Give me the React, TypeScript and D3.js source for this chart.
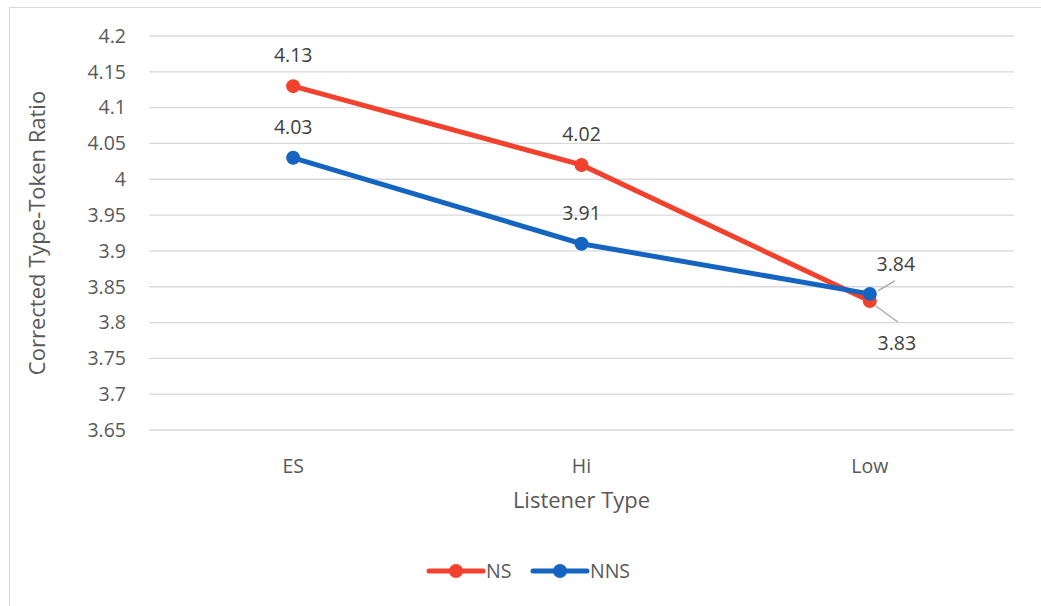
import { line as d3Line, scaleBand, scaleLinear } from "d3";

const categories = ["ES", "Hi", "Low"];
const nsValues = [4.13, 4.02, 3.83];
const nnsValues = [4.03, 3.91, 3.84];
const yTicks = [3.65, 3.7, 3.75, 3.8, 3.85, 3.9, 3.95, 4, 4.05, 4.1, 4.15, 4.2];

const width = 1041;
const height = 606;
const plot = { left: 149, right: 1014, top: 36, bottom: 430 };
const font = "'Open Sans', 'Noto Sans', sans-serif";
const textColor = "#595959";

const series = [
  { name: "NS", values: nsValues, color: "#f2412d" },
  { name: "NNS", values: nnsValues, color: "#1565c0" },
];

export default function App() {
  const x = scaleBand<string>().domain(categories).range([plot.left, plot.right]);
  const y = scaleLinear().domain([3.65, 4.2]).range([plot.bottom, plot.top]);
  const cx = (c: string) => (x(c) ?? 0) + x.bandwidth() / 2;

  const lineGen = d3Line<number>()
    .x((_, i) => cx(categories[i]))
    .y((d) => y(d));

  // Excel puts labels above; the two Low points are pulled apart with leader lines
  const labelPos = (s: number, i: number) => {
    const px = cx(categories[i]);
    const py = y(series[s].values[i]);
    if (i === 2) {
      return s === 1
        ? { x: px + 26, y: py - 30, leader: { x1: px + 8, y1: py - 3, x2: px + 25, y2: py - 13 } }
        : { x: px + 27, y: py + 42, leader: { x1: px + 6, y1: py + 5, x2: px + 28, y2: py + 21 } };
    }
    return { x: px, y: py - 31, leader: null };
  };

  return (
    <svg
      width={width}
      height={height}
      style={{ position: "absolute", left: 0, top: 0, background: "#fff" }}
      fontFamily={font}
    >
      <rect x={9.5} y={7.5} width={1040} height={610} fill="#fff" stroke="#d9d9d9" />

      {yTicks.map((t) => (
        <g key={t}>
          <line x1={plot.left} x2={plot.right} y1={y(t)} y2={y(t)} stroke="#d9d9d9" strokeWidth={1.3} />
          <text x={126} y={y(t)} dy="0.35em" textAnchor="end" fontSize={19.5} fill={textColor}>
            {t}
          </text>
        </g>
      ))}

      {categories.map((c) => (
        <text key={c} x={cx(c)} y={466} dy="0.35em" textAnchor="middle" fontSize={19.5} fill={textColor}>
          {c}
        </text>
      ))}

      <text
        transform={`translate(37, ${(plot.top + plot.bottom) / 2}) rotate(-90)`}
        textAnchor="middle"
        dy="0.35em"
        fontSize={22}
        fill={textColor}
      >
        Corrected Type-Token Ratio
      </text>
      <text x={cx("Hi")} y={500} dy="0.35em" textAnchor="middle" fontSize={22} fill={textColor}>
        Listener Type
      </text>

      {series.map((s) => (
        <g key={s.name}>
          <path d={lineGen(s.values) ?? ""} fill="none" stroke={s.color} strokeWidth={5} strokeLinecap="round" />
          {s.values.map((v, i) => (
            <circle key={i} cx={cx(categories[i])} cy={y(v)} r={7} fill={s.color} />
          ))}
        </g>
      ))}

      {series.map((s, si) =>
        s.values.map((v, i) => {
          const p = labelPos(si, i);
          return (
            <g key={`${s.name}-${i}`}>
              {p.leader && (
                <line
                  x1={p.leader.x1}
                  y1={p.leader.y1}
                  x2={p.leader.x2}
                  y2={p.leader.y2}
                  stroke="#a6a6a6"
                  strokeWidth={1.3}
                />
              )}
              <text x={p.x} y={p.y} dy="0.35em" textAnchor="middle" fontSize={19.5} fill="#404040">
                {v.toFixed(2)}
              </text>
            </g>
          );
        })
      )}

      {series.map((s, i) => {
        const lx = 429 + i * 104;
        return (
          <g key={s.name}>
            <line x1={lx} x2={lx + 54} y1={571} y2={571} stroke={s.color} strokeWidth={5} strokeLinecap="round" />
            <circle cx={lx + 27} cy={571} r={7} fill={s.color} />
            <text x={lx + 57} y={571} dy="0.35em" fontSize={19.5} fill={textColor}>
              {s.name}
            </text>
          </g>
        );
      })}
    </svg>
  );
}
